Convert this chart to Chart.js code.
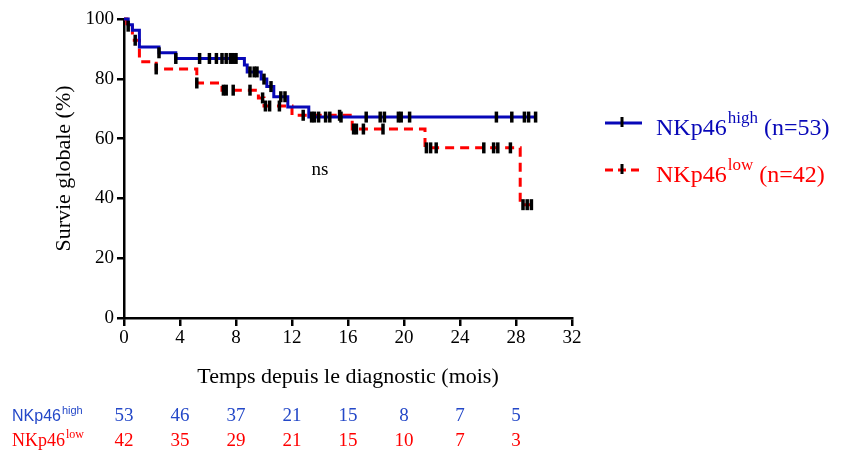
<!DOCTYPE html>
<html>
<head>
<meta charset="utf-8">
<script src="https://cdn.jsdelivr.net/npm/chart.js@4.4.1/dist/chart.umd.min.js"></script>
<style>
  body { margin: 0; background: #fff; }
  #wrap { position: relative; width: 844px; height: 453px; }
</style>
</head>
<body>
<div id="wrap"><canvas id="km" width="844" height="453"></canvas></div>
<script>
// Kaplan-Meier steps (time in months, survival in %)
const highTimes = [0, 0.3, 0.6, 1.1, 2.5, 3.7, 8.6, 8.8, 9.8, 10.2, 10.7, 11.7, 13.2, 29.5];
const highSurv  = [100, 98.1, 96.2, 90.6, 88.7, 86.8, 84.6, 82.3, 79.9, 77.4, 74.0, 70.6, 67.2, 67.2];
const lowTimes  = [0, 0.2, 0.6, 1.1, 2.3, 5.2, 7.0, 9.6, 10.0, 12.0, 16.3, 21.5, 28.3, 29.1];
const lowSurv   = [100, 97.6, 92.9, 85.7, 83.3, 78.6, 76.2, 73.6, 70.9, 67.8, 63.2, 56.9, 37.9, 37.9];

// censored observations (months)
const highCensor = [2.5, 3.7, 5.4, 6.1, 6.6, 7.0, 7.3, 7.6, 7.8, 8.0, 9.0, 9.3, 9.5, 10.0, 10.5, 11.2, 11.5,
                    13.4, 13.6, 13.9, 14.4, 14.7, 15.5, 17.3, 18.3, 18.6, 19.6, 19.8, 20.4, 26.6, 27.7, 28.6, 28.9, 29.4];
const lowCensor  = [0.3, 0.8, 2.3, 5.2, 7.1, 7.3, 7.8, 9.0, 9.9, 10.1, 10.4, 11.1, 12.8, 15.4, 16.4, 16.6, 17.1,
                    18.5, 21.6, 21.9, 22.3, 25.7, 26.4, 26.7, 27.6, 28.5, 28.8, 29.1];

// number at risk
const riskTimes = [0, 4, 8, 12, 16, 20, 24, 28];
const riskHigh  = [53, 46, 37, 21, 15, 8, 7, 5];
const riskLow   = [42, 35, 29, 21, 15, 10, 7, 3];

const xTicks = [0, 4, 8, 12, 16, 20, 24, 28, 32];
const yTicks = [0, 20, 40, 60, 80, 100];

const BLUE = '#0808b8';
const RED = '#ff0000';
const SERIF = "'Liberation Serif', 'Times New Roman', serif";

function survAt(times, surv, t) {
    let s = surv[0];
    for (let i = 0; i < times.length; i++) {
        if (times[i] <= t) s = surv[i];
    }
    return s;
}

const toPoints = (times, surv) => times.map((t, i) => ({ x: t, y: surv[i] }));
const censorPoints = (cens, times, surv) => cens.map(t => ({ x: t, y: survAt(times, surv, t) }));

const extras = {
    id: 'extras',
    afterDraw(chart) {
        const ctx = chart.ctx;
        const xs = chart.scales.x, ys = chart.scales.y;
        ctx.save();

        // ns
        ctx.fillStyle = '#000';
        ctx.font = '19px ' + SERIF;
        ctx.textAlign = 'center';
        ctx.textBaseline = 'alphabetic';
        ctx.fillText('ns', xs.getPixelForValue(14), ys.getPixelForValue(50) + 6);

        // legend
        ctx.textAlign = 'left';
        const legendRow = (y, color, dash, sup, n) => {
            ctx.strokeStyle = color;
            ctx.lineWidth = 3;
            ctx.setLineDash(dash);
            ctx.beginPath();
            ctx.moveTo(605, y);
            ctx.lineTo(642, y);
            ctx.stroke();
            ctx.setLineDash([]);
            ctx.strokeStyle = '#000';
            ctx.beginPath();
            ctx.moveTo(622, y - 6);
            ctx.lineTo(622, y + 4);
            ctx.stroke();
            ctx.fillStyle = color;
            let x = 656;
            ctx.font = '24px ' + SERIF;
            ctx.fillText('NKp46', x, y + 12);
            x += ctx.measureText('NKp46').width + 1;
            ctx.font = '17px ' + SERIF;
            ctx.fillText(sup, x, y);
            x += ctx.measureText(sup).width;
            ctx.font = '24px ' + SERIF;
            ctx.fillText(' (n=' + n + ')', x, y + 12);
        };
        legendRow(123, BLUE, [], 'high', 53);
        legendRow(170, RED, [8, 5], 'low', 42);

        // number at risk table
        ctx.fillStyle = '#2448c8';
        ctx.font = "16px 'Liberation Sans', Arial, sans-serif";
        ctx.fillText('NKp46', 12, 421);
        let w = ctx.measureText('NKp46').width;
        ctx.font = "11px 'Liberation Sans', Arial, sans-serif";
        ctx.fillText('high', 12 + w + 1, 414);

        ctx.fillStyle = RED;
        ctx.font = '18px ' + SERIF;
        ctx.fillText('NKp46', 12, 446);
        w = ctx.measureText('NKp46').width;
        ctx.font = '12px ' + SERIF;
        ctx.fillText('low', 12 + w + 1, 438);

        ctx.textAlign = 'center';
        ctx.font = '19px ' + SERIF;
        riskTimes.forEach((t, i) => {
            const px = xs.getPixelForValue(t);
            ctx.fillStyle = '#2448c8';
            ctx.fillText(String(riskHigh[i]), px, 421);
            ctx.fillStyle = RED;
            ctx.fillText(String(riskLow[i]), px, 446);
        });
        ctx.restore();
    }
};

const censorStyle = {
    showLine: false,
    pointStyle: 'line',
    rotation: 90,
    pointRadius: 5.5,
    pointBorderWidth: 3.5,
    pointBorderColor: '#000',
    pointBackgroundColor: '#000',
    borderColor: '#000'
};

new Chart(document.getElementById('km'), {
    type: 'line',
    data: {
        datasets: [
            { label: 'censor high', data: censorPoints(highCensor, highTimes, highSurv), ...censorStyle },
            { label: 'censor low', data: censorPoints(lowCensor, lowTimes, lowSurv), ...censorStyle },
            {
                label: 'NKp46 high (n=53)',
                data: toPoints(highTimes, highSurv),
                stepped: true,
                borderColor: BLUE,
                borderWidth: 3,
                pointRadius: 0,
                fill: false
            },
            {
                label: 'NKp46 low (n=42)',
                data: toPoints(lowTimes, lowSurv),
                stepped: true,
                borderColor: RED,
                borderWidth: 3,
                borderDash: [9, 6],
                pointRadius: 0,
                fill: false
            }
        ]
    },
    options: {
        responsive: false,
        animation: false,
        clip: 8,
        layout: { padding: { left: 47, top: 19, right: 272, bottom: 59 } },
        plugins: {
            legend: { display: false },
            tooltip: { enabled: false }
        },
        scales: {
            x: {
                type: 'linear',
                min: 0,
                max: 32,
                afterFit: s => { s.height = 76; },
                afterBuildTicks: s => { s.ticks = xTicks.map(v => ({ value: v })); },
                grid: { drawOnChartArea: false, drawTicks: true, tickLength: 8, color: '#000', lineWidth: 2.5 },
                border: { display: true, color: '#000', width: 2.5 },
                ticks: { color: '#000', padding: 1, font: { family: SERIF, size: 19 }, maxRotation: 0 },
                title: {
                    display: true,
                    text: 'Temps depuis le diagnostic (mois)',
                    color: '#000',
                    font: { family: SERIF, size: 22 },
                    padding: { top: 0, bottom: 4 }
                }
            },
            y: {
                min: 0,
                max: 100,
                afterFit: s => { s.width = 77; },
                afterBuildTicks: s => { s.ticks = yTicks.map(v => ({ value: v })); },
                grid: { drawOnChartArea: false, drawTicks: true, tickLength: 7, color: '#000', lineWidth: 2.5 },
                border: { display: true, color: '#000', width: 2.5 },
                ticks: { color: '#000', padding: 3, font: { family: SERIF, size: 19 } },
                title: {
                    display: true,
                    text: 'Survie globale (%)',
                    color: '#000',
                    font: { family: SERIF, size: 22 },
                    padding: { top: 4, bottom: 0 }
                }
            }
        }
    },
    plugins: [extras]
});
</script>
</body>
</html>
